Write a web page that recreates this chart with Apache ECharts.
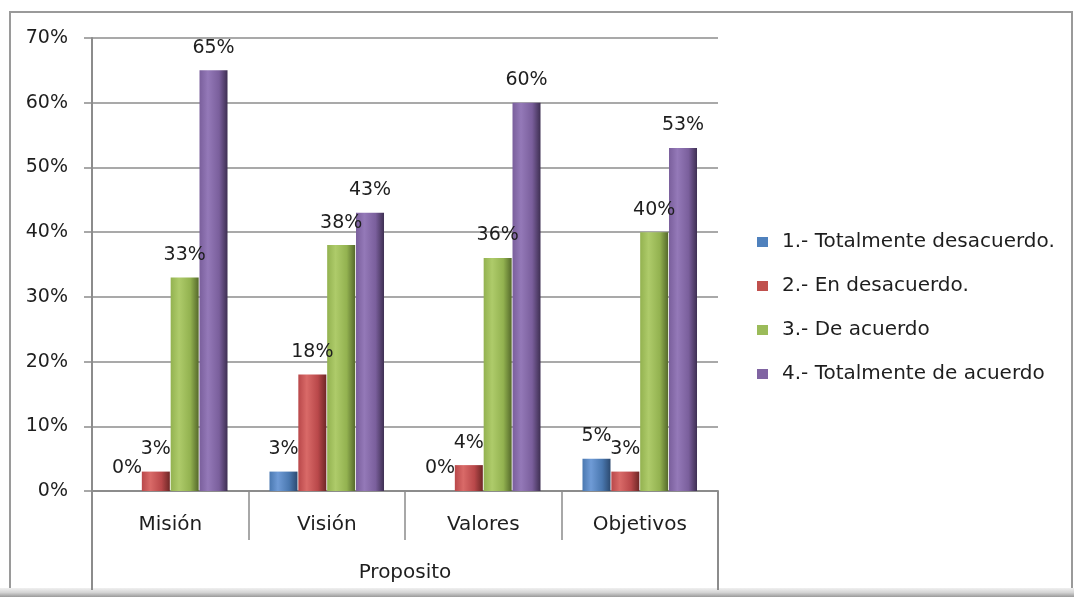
<!DOCTYPE html>
<html>
<head>
<meta charset="utf-8">
<script src="https://cdn.jsdelivr.net/npm/echarts@6/dist/echarts.min.js"></script>
<style>
  html, body { margin: 0; padding: 0; background: #ffffff; }
  #chart { width: 1074px; height: 597px; }
</style>
</head>
<body>
<div id="chart"></div>
<script>
// Survey answers per aspect of the purpose statement, in percent
const categories = ['Misión', 'Visión', 'Valores', 'Objetivos'];
const groupLabel = ['Proposito'];
const seriesNames = [
  '1.- Totalmente desacuerdo.',
  '2.- En desacuerdo.',
  '3.- De acuerdo',
  '4.- Totalmente de acuerdo'
];
const totalmenteDesacuerdo = [0, 3, 0, 5];
const enDesacuerdo = [3, 18, 4, 3];
const deAcuerdo = [33, 38, 36, 40];
const totalmenteDeAcuerdo = [65, 43, 60, 53];
const yTicks = [0, 10, 20, 30, 40, 50, 60, 70];

const FONT = 'DejaVu Sans';
const TEXT = '#1e1e1e';
const GRID = '#8c8c8c';

// Bevelled look: light strip on the left, darker edge on the right
function bevel(base, light, dark) {
  return new echarts.graphic.LinearGradient(0, 0, 1, 0, [
    { offset: 0, color: base },
    { offset: 0.3, color: light },
    { offset: 0.7, color: base },
    { offset: 1, color: dark }
  ]);
}
const palette = [
  bevel('#4a78b0', '#6f9bd6', '#2c4a70'),
  bevel('#b9484a', '#d96a68', '#6e2726'),
  bevel('#93b250', '#aecb6a', '#55692b'),
  bevel('#7a5f9c', '#9479b8', '#3e2f52')
];
const legendColors = ['#4f81bd', '#c0504d', '#9bbb59', '#8064a2'];
const values = [totalmenteDesacuerdo, enDesacuerdo, deAcuerdo, totalmenteDeAcuerdo];

const chart = echarts.init(document.getElementById('chart'), null, { renderer: 'canvas' });

const series = seriesNames.map((name, i) => ({
  name: name,
  type: 'bar',
  data: values[i],
  barWidth: 28,
  barGap: '3%',
  itemStyle: { color: palette[i] },
  label: {
    show: true,
    position: 'top',
    distance: 13,
    formatter: '{c}%',
    fontFamily: FONT,
    fontSize: 19,
    color: TEXT
  }
}));

chart.setOption({
  animation: false,
  backgroundColor: '#ffffff',
  textStyle: { fontFamily: FONT },
  grid: { left: 92, right: 356, top: 38, bottom: 106, containLabel: false },
  legend: {
    orient: 'vertical',
    left: 757,
    top: 232,
    padding: 0,
    itemWidth: 11,
    itemHeight: 10,
    itemGap: 24,
    icon: 'rect',
    data: seriesNames.map((n, i) => ({ name: n, itemStyle: { color: legendColors[i] } })),
    textStyle: { fontFamily: FONT, fontSize: 20, color: TEXT, lineHeight: 20, padding: [0, 0, 0, 9] }
  },
  xAxis: [
    {
      type: 'category',
      data: categories,
      boundaryGap: true,
      axisLine: { show: true, lineStyle: { color: GRID, width: 2 } },
      axisTick: { show: true, inside: false, length: 49, lineStyle: { color: GRID, width: 1.5 } },
      axisLabel: { margin: 24, fontFamily: FONT, fontSize: 20, color: TEXT }
    },
    {
      type: 'category',
      data: groupLabel,
      position: 'bottom',
      boundaryGap: true,
      axisLine: { show: false },
      axisTick: { show: true, length: 99, lineStyle: { color: GRID, width: 2 } },
      axisLabel: { margin: 72, fontFamily: FONT, fontSize: 20, color: TEXT }
    }
  ],
  yAxis: {
    type: 'value',
    min: 0,
    max: 70,
    interval: 10,
    axisLine: { show: true, lineStyle: { color: GRID, width: 2 } },
    axisTick: { show: true, length: 8, lineStyle: { color: GRID, width: 1.5 } },
    splitLine: { show: true, lineStyle: { color: GRID, width: 1.5 } },
    axisLabel: {
      margin: 24,
      fontFamily: FONT,
      fontSize: 19,
      color: TEXT,
      formatter: v => (yTicks.includes(v) ? v + '%' : '')
    }
  },
  graphic: [
    {
      type: 'rect',
      silent: true,
      shape: { x: 10, y: 12, width: 1062, height: 577 },
      style: { fill: 'none', stroke: '#9a9a9a', lineWidth: 2 }
    },
    {
      type: 'rect',
      silent: true,
      shape: { x: 0, y: 588, width: 1074, height: 9 },
      style: {
        fill: new echarts.graphic.LinearGradient(0, 0, 0, 1, [
          { offset: 0, color: '#f0f0f0' },
          { offset: 0.5, color: '#d4d4d4' },
          { offset: 1, color: '#9a9a9a' }
        ])
      }
    }
  ],
  series: series
});
</script>
</body>
</html>
